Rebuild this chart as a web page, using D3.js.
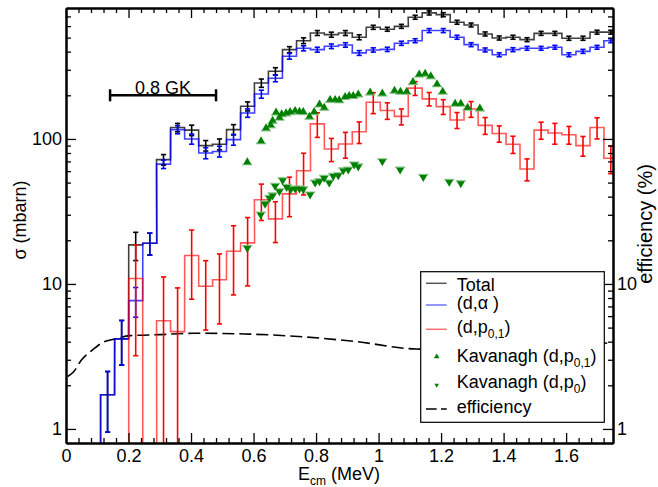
<!DOCTYPE html>
<html>
<head>
<meta charset="utf-8">
<script src="https://d3js.org/d3.v7.min.js"></script>
<style>
  body { margin: 0; background: #fff; }
  text { font-family: "Liberation Sans", Arial, sans-serif; }
</style>
</head>
<body>
<svg id="chart" width="658" height="487"></svg>
<script>
// bin centres (MeV) of the measured histograms, bin width ~0.0447 MeV
var binCenter = [0.133, 0.178, 0.223, 0.268, 0.312, 0.357, 0.402, 0.447, 0.491, 0.536,
                 0.581, 0.625, 0.670, 0.715, 0.760, 0.804, 0.849, 0.894, 0.938, 0.983,
                 1.028, 1.073, 1.117, 1.162, 1.207, 1.251, 1.296, 1.341, 1.386, 1.430,
                 1.475, 1.520, 1.564, 1.609, 1.654, 1.699, 1.743];
var binWidth = 0.0447;

// cross sections in mbarn, 0 = nothing measured
var sigTotal = [1.72, 4.18, 18.6, 19.1, 72, 120, 115, 90, 92, 116, 168, 243, 293, 413, 476, 538, 524,
                538, 503, 589, 571, 598, 691, 740, 720, 638, 611, 530, 497, 503, 484, 535, 535, 495,
                495, 545, 545];
var errTotal = [0.77, 1.42, 4.1, 3.3, 6, 8, 9.5, 7.5, 8, 9.5, 12, 16, 17, 20, 22, 21, 21, 21, 20, 19,
                18, 19, 22, 24, 23, 20, 19, 17, 16, 16, 15, 17, 17, 16, 16, 17, 17];
var sigAlpha = [1.72, 4.18, 7.67, 19.1, 67, 116, 100, 80, 82, 99, 151, 204, 262, 372, 422, 413, 436,
                445, 392, 411, 415, 457, 476, 559, 559, 503, 447, 411, 381, 413, 422, 422, 429, 381,
                402, 429, 476];
var errAlpha = [0.77, 1.42, 1.78, 3.3, 4.5, 7.5, 8, 7, 7, 8.5, 10, 13, 14, 17, 17, 16, 16, 16, 15, 14,
                14, 15, 15, 18, 18, 16, 14, 13, 12, 13, 13, 13, 13, 12, 13, 13, 15];
var sigP01 = [0, 0, 10.9, 0, 5.58, 4.69, 15.7, 9.64, 10.7, 16.8, 19.2, 38.1, 28.1, 41.8, 60.4, 127,
              85.3, 92.3, 112, 179, 157, 143, 224, 189, 167, 135, 161, 124, 109, 91.9, 62.1, 115,
              110, 107, 90, 120, 73.6];
var errP01 = [0, 0, 7.7, 0, 5.6, 4.7, 7.85, 4.83, 5.4, 8.4, 9.5, 10.7, 8.8, 12.7, 19.3, 24.5, 15.5,
              18.7, 19, 29.5, 20.5, 18, 24.5, 20, 19.5, 17, 20, 16.5, 14, 12.5, 10.7, 15.5, 18, 15,
              14, 20, 16];

// Kavanagh data
var kavP01E = [0.580, 0.624, 0.640, 0.655, 0.661, 0.672, 0.683, 0.690, 0.704, 0.717, 0.733, 0.747,
               0.759, 0.779, 0.794, 0.811, 0.826, 0.845, 0.861, 0.874, 0.893, 0.906, 0.919, 0.935,
               0.973, 1.012, 1.051, 1.070, 1.090, 1.110, 1.130, 1.149, 1.167, 1.187, 1.205, 1.245,
               1.263, 1.285, 1.324];
var kavP01S = [69.5, 97, 119, 125, 134, 153, 141, 149, 151, 154, 157, 155, 154, 143, 154, 174, 165,
               187, 187, 186, 196, 199, 199, 204, 210, 207, 216, 213, 213, 248, 280, 283, 272, 240,
               213, 176, 176, 165, 163];
var kavP0E = [0.580, 0.623, 0.637, 0.651, 0.661, 0.669, 0.683, 0.693, 0.706, 0.719, 0.733, 0.747,
              0.759, 0.781, 0.797, 0.811, 0.826, 0.842, 0.855, 0.871, 0.887, 0.903, 0.922, 0.935,
              1.012, 1.069, 1.143, 1.226, 1.263];
var kavP0S = [17.6, 29.9, 35.6, 39.0, 40.6, 47.2, 43.3, 51.6, 46.4, 44.7, 45.2, 45.2, 44.7, 41.1,
              49.7, 50.8, 53.6, 49.7, 55.3, 55.8, 60.4, 61.1, 66.2, 64.3, 69.7, 61.1, 54.4, 50.3, 49.2];

// detection efficiency (%)
var effE = [0.005, 0.023, 0.05, 0.082, 0.119, 0.157, 0.205, 0.30, 0.41, 0.57, 0.73, 0.93, 1.12, 1.40, 1.75];
var effV = [2.3, 2.46, 3.0, 3.47, 3.96, 4.17, 4.40, 4.47, 4.57, 4.52, 4.36, 4.0, 3.56, 3.5, 3.95];

// 0.8 GK Gamow window marker
var gkRange = [0.141, 0.48];
var gkLevel = 200;

var xTicks = [0, 0.2, 0.4, 0.6, 0.8, 1.0, 1.2, 1.4, 1.6];
var xTickLabels = ['0', '0.2', '0.4', '0.6', '0.8', '1', '1.2', '1.4', '1.6'];
var yTicks = [1, 10, 100];
var yTickLabels = ['1', '10', '100'];
var yRightLabels = ['1', '10', ''];

var svg = d3.select('#chart');
var x = d3.scaleLinear().domain([0, 1.75]).range([66, 613]);
var y = d3.scaleLog().domain([0.8, 800]).range([443, 8]);
var below = 470;

function yv(v) { return v > 0 ? y(v) : below; }

svg.append('clipPath').attr('id', 'plotclip')
    .append('rect').attr('x', 66).attr('y', 8).attr('width', 547).attr('height', 435);

var plot = svg.append('g').attr('clip-path', 'url(#plotclip)');

// efficiency curve
var effLine = d3.line()
    .x(function(d) { return x(d[0]); })
    .y(function(d) { return y(d[1]); })
    .curve(d3.curveMonotoneX);
plot.append('path')
    .attr('d', effLine(effE.map(function(e, i) { return [e, effV[i]]; })))
    .attr('fill', 'none')
    .attr('stroke', '#000')
    .attr('stroke-width', 1.6)
    .attr('stroke-dasharray', '12,5');

function stepPoints(vals) {
    var pts = [];
    var start = 0;
    while (start < vals.length && !(vals[start] > 0)) start++;
    for (var i = start; i < vals.length; i++) {
        var l = x(binCenter[i] - binWidth / 2), r = x(binCenter[i] + binWidth / 2);
        if (i === start) pts.push([l, below]);
        pts.push([l, yv(vals[i])]);
        pts.push([r, yv(vals[i])]);
    }
    return pts;
}

var hists = [
    { vals: sigTotal, errs: errTotal, line: '#000000', bar: '#000000', op: 0.75 },
    { vals: sigAlpha, errs: errAlpha, line: '#0000ff', bar: '#0000ff', op: 0.75 },
    { vals: sigP01, errs: errP01, line: '#ff0000', bar: '#ff0000', op: 0.65 }
];

hists.forEach(function(h) {
    plot.append('path')
        .attr('d', d3.line()(stepPoints(h.vals)))
        .attr('fill', 'none')
        .attr('stroke', h.line)
        .attr('stroke-opacity', h.op)
        .attr('stroke-width', 1.6);
});

hists.forEach(function(h) {
    var g = plot.append('g').attr('stroke', h.bar).attr('stroke-width', 1.6);
    h.vals.forEach(function(v, i) {
        if (!(v > 0) || !(h.errs[i] > 0)) return;
        var cx = x(binCenter[i]);
        var hi = y(v + h.errs[i]);
        var lo = yv(v - h.errs[i]);
        g.append('line').attr('x1', cx).attr('x2', cx).attr('y1', hi).attr('y2', lo);
        g.append('line').attr('x1', cx - 2.6).attr('x2', cx + 2.6).attr('y1', hi).attr('y2', hi);
        g.append('line').attr('x1', cx - 2.6).attr('x2', cx + 2.6).attr('y1', lo).attr('y2', lo);
    });
});

// Kavanagh markers
function markers(es, ss, up) {
    var g = plot.append('g');
    var tri = d3.symbol().type(d3.symbolTriangle).size(28);
    es.forEach(function(e, i) {
        var cx = x(e), cy = y(ss[i]);
        var by = up ? cy + 2.7 : cy - 2.7;
        g.append('line').attr('x1', cx - 5).attr('x2', cx + 5).attr('y1', by).attr('y2', by)
            .attr('stroke', '#80c080').attr('stroke-width', 1.5);
    });
    es.forEach(function(e, i) {
        g.append('path')
            .attr('d', tri())
            .attr('transform', 'translate(' + x(e) + ',' + y(ss[i]) + ')' + (up ? '' : ' rotate(180)'))
            .attr('fill', '#008000');
    });
}
markers(kavP01E, kavP01S, true);
markers(kavP0E, kavP0S, false);

// 0.8 GK bar
var gk = svg.append('g').attr('stroke', '#000').attr('stroke-width', 2.5);
gk.append('line').attr('x1', x(gkRange[0])).attr('x2', x(gkRange[1]))
    .attr('y1', y(gkLevel)).attr('y2', y(gkLevel));
gkRange.forEach(function(e) {
    gk.append('line').attr('x1', x(e)).attr('x2', x(e))
        .attr('y1', y(gkLevel) - 6).attr('y2', y(gkLevel) + 6);
});
svg.append('text')
    .attr('x', x((gkRange[0] + gkRange[1]) / 2))
    .attr('y', y(gkLevel) - 1)
    .attr('text-anchor', 'middle')
    .attr('font-size', 18)
    .text('0.8 GK');

// axes
var xMinor = d3.range(0, 1.76, 0.04).filter(function(v) {
    return Math.abs(v / 0.2 - Math.round(v / 0.2)) > 0.01;
});
var yMinor = y.ticks().filter(function(v) {
    return v >= 1 && v < 800 && yTicks.indexOf(v) < 0;
});

function styleAxis(g) {
    g.select('.domain').attr('stroke-width', 2);
    g.selectAll('.tick line').attr('stroke-width', 1.3);
    g.selectAll('.tick text').attr('font-size', 18).attr('fill', '#000')
        .attr('font-family', '"Liberation Sans", Arial, sans-serif');
}

svg.append('g').attr('transform', 'translate(0,443)')
    .call(d3.axisBottom(x).tickValues(xTicks).tickSize(-10).tickSizeOuter(0).tickPadding(6)
        .tickFormat(function(d, i) { return xTickLabels[i]; }))
    .call(styleAxis);
svg.append('g').attr('transform', 'translate(0,443)')
    .call(d3.axisBottom(x).tickValues(xMinor).tickSize(-5).tickSizeOuter(0).tickFormat(''))
    .call(styleAxis);
svg.append('g').attr('transform', 'translate(0,8)')
    .call(d3.axisTop(x).tickValues(xTicks).tickSize(-10).tickSizeOuter(0).tickFormat(''))
    .call(styleAxis);
svg.append('g').attr('transform', 'translate(0,8)')
    .call(d3.axisTop(x).tickValues(xMinor).tickSize(-5).tickSizeOuter(0).tickFormat(''))
    .call(styleAxis);

svg.append('g').attr('transform', 'translate(66,0)')
    .call(d3.axisLeft(y).tickValues(yTicks).tickSize(-10).tickSizeOuter(0).tickPadding(4)
        .tickFormat(function(d, i) { return yTickLabels[i]; }))
    .call(styleAxis);
svg.append('g').attr('transform', 'translate(66,0)')
    .call(d3.axisLeft(y).tickValues(yMinor).tickSize(-5).tickSizeOuter(0).tickFormat(''))
    .call(styleAxis);
svg.append('g').attr('transform', 'translate(613,0)')
    .call(d3.axisRight(y).tickValues(yTicks).tickSize(-10).tickSizeOuter(0).tickPadding(4)
        .tickFormat(function(d, i) { return yRightLabels[i]; }))
    .call(styleAxis);
svg.append('g').attr('transform', 'translate(613,0)')
    .call(d3.axisRight(y).tickValues(yMinor).tickSize(-5).tickSizeOuter(0).tickFormat(''))
    .call(styleAxis);

// axis titles
svg.append('text')
    .attr('transform', 'translate(26,220) rotate(-90)')
    .attr('text-anchor', 'middle')
    .attr('font-size', 18)
    .text('σ (mbarn)');
svg.append('text')
    .attr('transform', 'translate(652,224) rotate(-90)')
    .attr('text-anchor', 'middle')
    .attr('font-size', 20)
    .text('efficiency (%)');
var xt = svg.append('text').attr('x', 298).attr('y', 480).attr('font-size', 18);
xt.append('tspan').text('E');
xt.append('tspan').attr('font-size', 12).attr('dy', 5).text('cm');
xt.append('tspan').attr('dy', -5).text(' (MeV)');

// legend
var leg = svg.append('g');
leg.append('rect').attr('x', 420.7).attr('y', 271.7).attr('width', 183.6).attr('height', 150.6)
    .attr('fill', '#fff').attr('stroke', '#000').attr('stroke-width', 1.2);

var legendRows = [
    { y: 290.5, sy: 283.3, kind: 'line', color: '#555555', text: ['Total'] },
    { y: 309, sy: 305, kind: 'line', color: '#7070ff', text: ['(d,α )'] },
    { y: 333.3, sy: 329.3, kind: 'line', color: '#ff7070', text: ['(d,p', '0,1', ')'] },
    { y: 361.7, sy: 356.7, kind: 'up', text: ['Kavanagh (d,p', '0,1', ')'] },
    { y: 388.3, sy: 385, kind: 'down', text: ['Kavanagh (d,p', '0', ')'] },
    { y: 413.3, sy: 409, kind: 'dash', text: ['efficiency'] }
];

legendRows.forEach(function(r) {
    if (r.kind === 'line' || r.kind === 'dash') {
        leg.append('line').attr('x1', 426).attr('x2', 446.7).attr('y1', r.sy).attr('y2', r.sy)
            .attr('stroke', r.kind === 'dash' ? '#000' : r.color)
            .attr('stroke-width', 1.5)
            .attr('stroke-dasharray', r.kind === 'dash' ? '10.7,4.3' : null);
    } else {
        leg.append('path')
            .attr('d', d3.symbol().type(d3.symbolTriangle).size(r.kind === 'up' ? 14 : 9)())
            .attr('transform', 'translate(436.7,' + r.sy + ')' + (r.kind === 'up' ? '' : ' rotate(180)'))
            .attr('fill', '#008000');
    }
    var t = leg.append('text').attr('x', 456.7).attr('y', r.y).attr('font-size', 18);
    t.append('tspan').text(r.text[0]);
    if (r.text.length > 1) {
        t.append('tspan').attr('font-size', 12).attr('dy', 5).text(r.text[1]);
        t.append('tspan').attr('dy', -5).text(r.text[2]);
    }
});
</script>
</body>
</html>
